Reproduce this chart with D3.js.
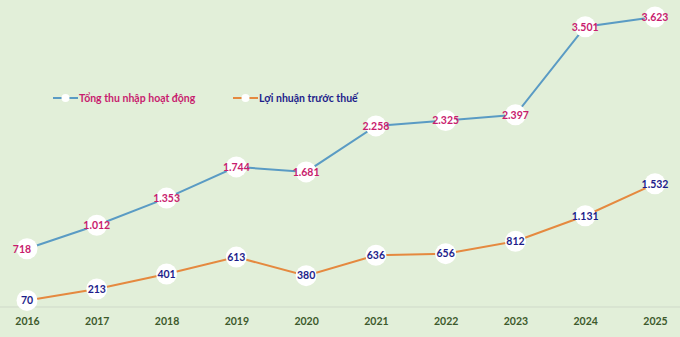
<!DOCTYPE html>
<html>
<head>
<meta charset="utf-8">
<script src="https://cdn.jsdelivr.net/npm/d3@7/dist/d3.min.js"></script>
<style>
  html, body { margin: 0; padding: 0; background: #e2efd9; }
  svg { display: block; }
  text { font-family: Lato, "Open Sans", "DejaVu Sans", sans-serif; font-weight: bold; }
</style>
</head>
<body>
<svg id="chart" width="680" height="337"></svg>
<script>
// Years on the category axis
const years = ["2016", "2017", "2018", "2019", "2020", "2021", "2022", "2023", "2024", "2025"];
// Tổng thu nhập hoạt động (tỷ đồng)
const totalIncome = [718, 1012, 1353, 1744, 1681, 2258, 2325, 2397, 3501, 3623];
// Lợi nhuận trước thuế (tỷ đồng)
const preTaxProfit = [70, 213, 401, 613, 380, 636, 656, 812, 1131, 1532];
const seriesNames = ["Tổng thu nhập hoạt động", "Lợi nhuận trước thuế"];

const W = 680, H = 337;
const svg = d3.select("#chart");

const x = d3.scalePoint().domain(years).range([27, 655]);
const y = d3.scaleLinear().domain([0, 3623]).range([306, 17]);

const fmt = v => d3.format(",")(v).replace(/,/g, ".");

const series = [
  { name: seriesNames[0], values: totalIncome, line: "#5a9bc4", label: "#c81c6e" },
  { name: seriesNames[1], values: preTaxProfit, line: "#e5893f", label: "#1d1d8a" }
];

// baseline
svg.append("line")
  .attr("x1", 0).attr("x2", W)
  .attr("y1", 307).attr("y2", 307)
  .attr("stroke", "#cfd9c9").attr("stroke-width", 1);

// x axis labels
const xAxis = d3.axisBottom(x).tickSize(0).tickPadding(0);
const gx = svg.append("g").attr("transform", "translate(0,318)").call(xAxis);
gx.select(".domain").remove();
gx.selectAll("text")
  .attr("fill", "#3d5a2c")
  .attr("font-size", 10.5)
  .attr("font-family", "Lato, 'Open Sans', sans-serif")
  .attr("font-weight", "bold");

const line = d3.line().x((d, i) => x(years[i])).y(d => y(d));

series.forEach(s => {
  svg.append("path")
    .datum(s.values)
    .attr("d", line)
    .attr("fill", "none")
    .attr("stroke", s.line)
    .attr("stroke-width", 2);
});

series.forEach(s => {
  const g = svg.append("g");
  g.selectAll("circle")
    .data(s.values)
    .join("circle")
    .attr("cx", (d, i) => x(years[i]))
    .attr("cy", d => y(d))
    .attr("r", 10.5)
    .attr("fill", "#ffffff");
  g.selectAll("text")
    .data(s.values)
    .join("text")
    .attr("x", (d, i) => x(years[i]) + (i === 0 && s === series[0] ? -5 : 0))
    .attr("y", d => y(d))
    .attr("dy", "0.36em")
    .attr("text-anchor", "middle")
    .attr("font-size", 10.5)
    .attr("fill", s.label)
    .text(d => fmt(d));
});

// legend
const legend = [
  { s: series[0], x0: 53 },
  { s: series[1], x0: 233 }
];
legend.forEach(l => {
  const g = svg.append("g").attr("transform", `translate(${l.x0},98)`);
  g.append("line").attr("x1", 0).attr("x2", 25).attr("y1", 0).attr("y2", 0)
    .attr("stroke", l.s.line).attr("stroke-width", 2);
  g.append("circle").attr("cx", 12.5).attr("cy", 0).attr("r", 4).attr("fill", "#fff");
  g.append("text").attr("x", 26).attr("y", 0).attr("dy", "0.36em")
    .attr("font-size", 10.5).attr("fill", l.s.label).text(l.s.name);
});
</script>
</body>
</html>
